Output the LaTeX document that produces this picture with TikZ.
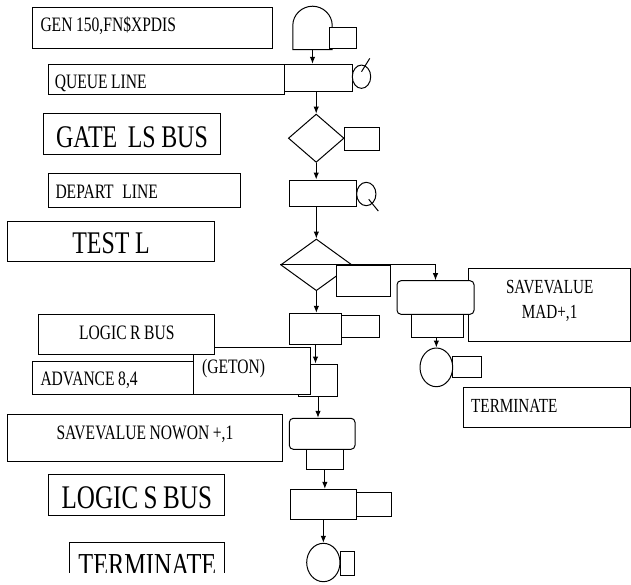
\documentclass[tikz,border=0pt]{standalone}
\usepackage{fontspec}
\setmainfont{Liberation Serif}[FakeStretch=0.76]
\usetikzlibrary{arrows.meta, shapes.geometric}
\protected\def\fsmall{\fontsize{20.5}{25.6}\selectfont\spaceskip=3.6pt\relax}
\protected\def\fmad{\fontsize{20}{25.6}\selectfont\spaceskip=3.5pt\relax}
\protected\def\fbig{\fontsize{31.5}{36}\selectfont\spaceskip=5.5pt\relax}
\protected\def\fhuge{\fontsize{33}{38}\selectfont\spaceskip=5.5pt\relax}

\begin{document}
\begin{tikzpicture}[
    x=1pt, y=-1pt,
    line width=1pt,
    every node/.style={inner sep=0},
    txt/.style={draw, fill=white, anchor=north west, align=flush left, font=\fsmall},
    bigtxt/.style={txt, align=flush center, font=\fbig},
    blk/.style={draw, fill=white, rectangle},
    rblk/.style={blk, rounded corners=4pt},
    dia/.style={draw, fill=white, diamond},
    circ/.style={draw, fill=white, ellipse},
    arr/.style={-{Latex[length=7pt, width=5.5pt]}},
  ]
  \useasboundingbox (0,0) rectangle (631,584);

  % block texts, left column
  \node[txt, minimum width=239.4pt, text width=224pt, text height=24pt, text depth=17.6pt]
    (tGen) at (32.3,6.7) {GEN 150,FN\$XPDIS};
  \node[txt, minimum width=236pt, text width=224pt, text height=23.4pt, text depth=6.3pt]
    (tQueue) at (48.3,64.3) {QUEUE LINE};
  \node[bigtxt, minimum width=176.4pt, text width=176.4pt, text height=33.4pt, text depth=7.6pt]
    (tGate) at (43.3,113.3) {GATE\hspace{5pt} LS BUS};
  \node[txt, minimum width=192pt, text width=178.6pt, text height=25pt, text depth=9pt]
    (tDepart) at (48.3,173.3) {DEPART\hspace{5pt} LINE};
  \node[bigtxt, minimum width=207.6pt, text width=207.6pt, text height=32.6pt, text depth=7.7pt]
    (tTest) at (6.7,220.7) {TEST L};

  \node[txt, minimum width=168pt, text width=152.6pt, text height=24pt, text depth=9.3pt]
    (tAdv) at (32.3,361) {ADVANCE 8,4};
  \node[blk, minimum width=39.4pt, minimum height=32.7pt] (ablk) at (318,380.35) {};
  \node[txt, minimum width=116.7pt, text width=99.9pt, text height=25.4pt, text depth=21.6pt]
    (tGeton) at (193.3,347.3) {(GETON)};
  \node[txt, align=flush center, minimum width=176pt, text width=176pt, text height=24.7pt,
        text depth=15.3pt]
    (tLogicR) at (38.3,314.3) {LOGIC R BUS};

  \node[txt, align=flush center, minimum width=275.6pt, text width=275.6pt, text height=25pt,
        text depth=21.7pt]
    (tNowon) at (6.7,414.3) {SAVEVALUE NOWON +,1};
  \node[bigtxt, font=\fhuge, minimum width=176pt, text width=176pt, text height=34pt, text depth=6.7pt]
    (tLogicS) at (48.3,474.3) {LOGIC S BUS};
  \begin{scope}
    \clip (0,0) rectangle (631,572.5);
    \node[bigtxt, font=\fontsize{32}{38}\selectfont, minimum width=155pt, text width=155pt,
          text height=33.3pt, text depth=10pt]
      (tTermB) at (69.3,541.7) {TERMINATE};
  \end{scope}

  % block texts, right column
  \node[txt, align=flush center, font=\fmad, minimum width=161.7pt, text width=161.7pt,
        text height=25pt, text depth=48pt]
    (tMad) at (468.3,267.7) {SAVEVALUE\\MAD+,1};
  \node[txt, font=\fmad, minimum width=166.7pt, text width=151.9pt, text height=25pt, text depth=15pt]
    (tTermR) at (463.3,386.7) {TERMINATE};

  % GENERATE
  \node[minimum width=38.4pt, minimum height=23.1pt] (gen) at (312.5,37.45) {};
  \draw (gen.south west) -- (gen.north west)
    .. controls +(0,-10.6) and +(-10.6,0) .. ([yshift=19.2pt]gen.north)
    .. controls +(10.6,0) and +(0,-10.6) .. (gen.north east) -- (gen.south east) -- cycle;
  \node[blk, minimum width=27.4pt, minimum height=21pt] (gen2) at (343,37.8) {};

  % QUEUE
  \node[blk, minimum width=68pt, minimum height=26.7pt] (qblk) at (318.3,77.65) {};
  \node[circ, minimum width=18.4pt, minimum height=23.3pt] (qcir) at (361.5,76.7) {};
  \draw ([yshift=5pt]qcir.center) -- ++(8.3,-13.4);

  % GATE
  \node[dia, minimum width=55.7pt, minimum height=48.3pt] (gate) at (316.2,138.2) {};
  \node[blk, minimum width=35.3pt, minimum height=23.4pt] (gate2) at (361.65,139) {};

  % DEPART
  \node[blk, minimum width=67.7pt, minimum height=26.7pt] (dblk) at (322.85,193.35) {};
  \node[circ, minimum width=19.3pt, minimum height=23.4pt] (dcir) at (366.3,194) {};
  \draw ([shift={(2.4,5.3)}]dcir.center) -- ++(9.6,11.7);

  % TEST
  \node[dia, minimum width=71.3pt, minimum height=51.7pt] (test) at (316.35,264.85) {};
  \node[blk, minimum width=54pt, minimum height=30.6pt] (test2) at (363.7,281) {};

  % LOGIC R
  \node[blk, minimum width=51.6pt, minimum height=30.7pt] (lblk) at (315.5,328.65) {};
  \node[blk, minimum width=38pt, minimum height=21.6pt] (lblk2) at (360.3,326.5) {};

  % SAVEVALUE NOWON
  \node[rblk, minimum width=65.7pt, minimum height=31pt] (nrnd) at (322.15,433.8) {};
  \node[blk, minimum width=36.3pt, minimum height=19.7pt] (nrnd2) at (324.85,459.15) {};

  % LOGIC S
  \node[blk, minimum width=66.7pt, minimum height=30pt] (sblk) at (323.35,504.3) {};
  \node[blk, minimum width=35pt, minimum height=24pt] (sblk2) at (374.2,504.7) {};

  % TERMINATE
  \node[blk, minimum width=14.7pt, minimum height=24pt] (tcir2) at (347.35,563) {};
  \node[circ, minimum width=33.3pt, minimum height=38.4pt] (tcir) at (323.35,562.5) {};

  % SAVEVALUE MAD and TERMINATE
  \node[rblk, minimum width=77pt, minimum height=33.6pt] (mrnd) at (435.5,297.5) {};
  \node[blk, minimum width=51.6pt, minimum height=23.4pt] (mrnd2) at (437.5,326) {};
  \node[blk, minimum width=29pt, minimum height=21pt] (mcir2) at (467.2,367.2) {};
  \node[circ, minimum width=32.7pt, minimum height=38.7pt] (mcir) at (436.35,367.35) {};

  % flow
  \draw[arr] (gen.south) -- (gen.south |- qblk.north);
  \draw[arr] (gate.north |- qblk.south) -- (gate.north);
  \draw[arr] (gate.south) -- (gate.south |- dblk.north);
  \draw[arr] (test.north |- dblk.south) -- (test.north);
  \draw[arr] (test.west) -| (mrnd.north);
  \draw[arr] (test.south) -- (test.south |- lblk.north);
  \draw[arr] (lblk.south) -- (lblk.south |- ablk.north);
  \draw[arr] (ablk.south) -- (ablk.south |- nrnd.north);
  \draw[arr] (nrnd2.south) -- (nrnd2.south |- sblk.north);
  \draw[arr] (sblk.south) -- (tcir.north);
  \draw[arr] (mcir.north |- mrnd2.south) -- (mcir.north);
\end{tikzpicture}
\end{document}
